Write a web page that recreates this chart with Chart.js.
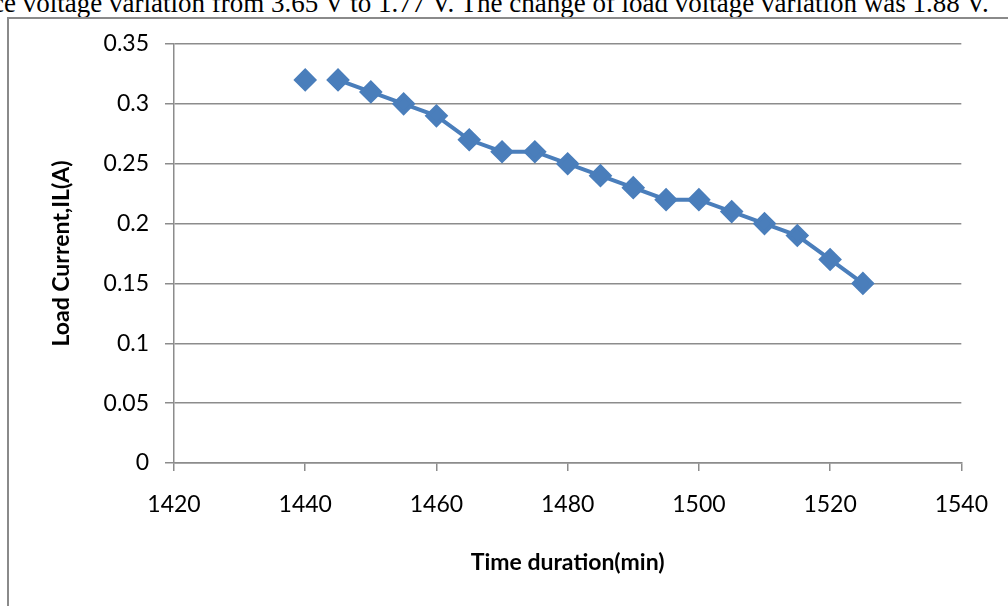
<!DOCTYPE html>
<html>
<head>
<meta charset="utf-8">
<script src="https://cdn.jsdelivr.net/npm/chart.js@4"></script>
<style>
  body { margin: 0; background: #fff; overflow: hidden; width: 1008px; height: 606px; position: relative; }
  #caption { position: absolute; left: -8px; top: -10px; font: 27px/26px "Liberation Serif", serif; color: #000; white-space: nowrap; }
  #frame { position: absolute; left: 7px; top: 17px; width: 1100px; height: 700px; border: 2px solid #8a8a8a; }
  #wrap { position: absolute; left: 0; top: 0; width: 1008px; height: 606px; }
</style>
</head>
<body>
<div id="caption">ce voltage variation from 3.65 V to 1.77 V. The change of load voltage variation was 1.88 V.</div>
<div id="frame"></div>
<div id="wrap"><canvas id="currentChart"></canvas></div>
<script>
// time (min) vs load current (A)
const timeMin = [1440, 1445, 1450, 1455, 1460, 1465, 1470, 1475, 1480, 1485, 1490, 1495, 1500, 1505, 1510, 1515, 1520, 1525];
const loadCurrent = [0.32, 0.32, 0.31, 0.30, 0.29, 0.27, 0.26, 0.26, 0.25, 0.24, 0.23, 0.22, 0.22, 0.21, 0.20, 0.19, 0.17, 0.15];
const xTicks = [1420, 1440, 1460, 1480, 1500, 1520, 1540];
const yTicks = [0, 0.05, 0.1, 0.15, 0.2, 0.25, 0.3, 0.35];

const blue = '#4a7ebb';
const axisGrey = '#8c8c8c';
const font = 'Lato, "Open Sans", sans-serif';

new Chart(document.getElementById('currentChart'), {
  type: 'scatter',
  data: {
    datasets: [{
      label: 'Load Current',
      data: timeMin.map((t, i) => ({ x: t, y: loadCurrent[i] })),
      showLine: true,
      borderColor: blue,
      backgroundColor: blue,
      borderWidth: 4,
      pointStyle: 'rectRot',
      pointRadius: 9,
      pointHoverRadius: 9,
      // first point stands alone in the original
      segment: { borderColor: ctx => ctx.p0DataIndex === 0 ? 'rgba(0,0,0,0)' : blue }
    }]
  },
  options: {
    responsive: true,
    maintainAspectRatio: false,
    animation: false,
    layout: { padding: { left: 0, right: 46, top: 44, bottom: 0 } },
    plugins: { legend: { display: false }, tooltip: { enabled: false } },
    scales: {
      x: {
        type: 'linear',
        min: 1420, max: 1540,
        afterBuildTicks: s => { s.ticks = xTicks.map(v => ({ value: v })); },
        ticks: { color: '#000', font: { family: font, size: 23 }, padding: 20, callback: v => String(v) },
        grid: { drawOnChartArea: false, color: axisGrey, tickLength: 8, lineWidth: 1.5 },
        border: { color: axisGrey, width: 1.5 },
        title: { display: true, text: 'Time duration(min)', color: '#000', font: { family: font, size: 23, weight: 'bold' }, padding: { top: 14, bottom: 30 } },
        afterFit: s => { s.height = 143; }
      },
      y: {
        min: 0, max: 0.35,
        afterBuildTicks: s => { s.ticks = yTicks.map(v => ({ value: v })); },
        ticks: { color: '#000', font: { family: font, size: 23 }, padding: 16, callback: v => String(v) },
        grid: { color: axisGrey, tickLength: 9, lineWidth: 1.5 },
        border: { color: axisGrey, width: 1.5 },
        title: { display: true, text: 'Load Current,IL(A)', color: '#000', font: { family: font, size: 23, weight: 'bold' }, padding: { top: 48, bottom: 8 } },
        afterFit: s => { s.width = 174; }
      }
    }
  }
});
</script>
</body>
</html>
